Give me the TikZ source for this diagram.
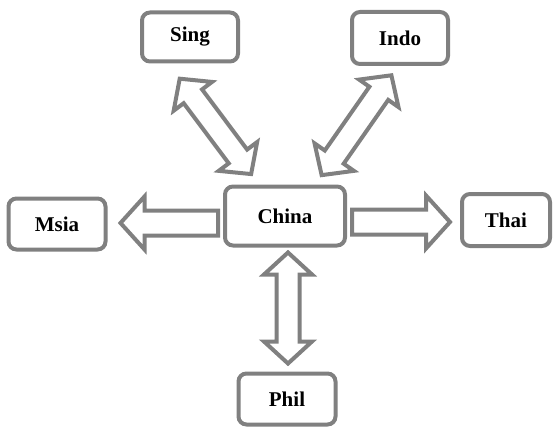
\documentclass[tikz,border=0pt]{standalone}
\usepackage{fontspec}
\setmainfont{Liberation Serif}
\usetikzlibrary{calc}

% angle and length from one named point to another
\newcommand{\arrowframe}[2]{%
  \path let \p1=($(#2)-(#1)$) in \pgfextra{%
    \pgfmathparse{atan2(\y1,\x1)}\xdef\arrowangle{\pgfmathresult}%
    \pgfmathparse{veclen(\x1,\y1)}\xdef\arrowlength{\pgfmathresult}};}

% block arrow, tip at #2
\newcommand{\onewayarrow}[2]{%
  \arrowframe{#1}{#2}
  \begin{scope}[shift={(#1)}, rotate=\arrowangle, x=1pt, y=1pt]
    \draw[arrow_style] (0,-12.5) -- (\arrowlength-24,-12.5) -- (\arrowlength-24,-26.5)
      -- (\arrowlength,0) -- (\arrowlength-24,26.5) -- (\arrowlength-24,12.5) -- (0,12.5) -- cycle;
  \end{scope}}

% block arrow, tips at both ends
\newcommand{\twowayarrow}[2]{%
  \arrowframe{#1}{#2}
  \begin{scope}[shift={(#1)}, rotate=\arrowangle, x=1pt, y=1pt]
    \draw[arrow_style] (22,-11.5) -- (\arrowlength-22,-11.5) -- (\arrowlength-22,-24)
      -- (\arrowlength,0) -- (\arrowlength-22,24) -- (\arrowlength-22,11.5)
      -- (22,11.5) -- (22,24) -- (0,0) -- (22,-24) -- cycle;
  \end{scope}}

\begin{document}
\begin{tikzpicture}[x=1pt, y=-1pt,
    box_style/.style={draw=gray, line width=4pt, rounded corners=8pt, fill=white,
      minimum width=96pt, minimum height=50pt, font=\bfseries\fontsize{21}{25}\selectfont},
    arrow_style/.style={draw=gray, line width=4pt, fill=white}]

    \useasboundingbox (0,0) rectangle (555,428);

    \node[box_style, minimum width=120pt, minimum height=59pt] (china) at (285,216) {China};
    \node[box_style, minimum height=49pt] (sing) at (190,37) {Sing};
    \node[box_style, minimum height=52pt] (indo) at (400,38) {Indo};
    \node[box_style, minimum width=97pt, minimum height=51pt] (msia) at (57,224) {Msia};
    \node[box_style, minimum width=88pt, minimum height=52pt] (thai) at (506,220) {Thai};
    \node[box_style, minimum width=97pt, minimum height=51pt] (phil) at (287,399) {Phil};

    % arrow ends
    \coordinate (m1) at ($(china.west)+(-5,7)$);
    \coordinate (m2) at ($(msia.east)+(13,-1)$);
    \coordinate (t1) at ($(china.east)+(5,6)$);
    \coordinate (t2) at ($(thai.west)+(-10,2)$);
    \coordinate (p1) at ($(china.south)+(3,5)$);
    \coordinate (p2) at ($(phil.north)+(1,-8)$);
    \coordinate (s1) at ($(sing.south)+(-10.3,15.2)$);
    \coordinate (s2) at ($(china.north)+(-33.7,-10.2)$);
    \coordinate (i1) at ($(indo.south)+(-8.6,9.3)$);
    \coordinate (i2) at ($(china.north)+(36.6,-9.3)$);

    \onewayarrow{m1}{m2}
    \onewayarrow{t1}{t2}
    \twowayarrow{p1}{p2}
    \twowayarrow{s1}{s2}
    \twowayarrow{i1}{i2}

\end{tikzpicture}
\end{document}
